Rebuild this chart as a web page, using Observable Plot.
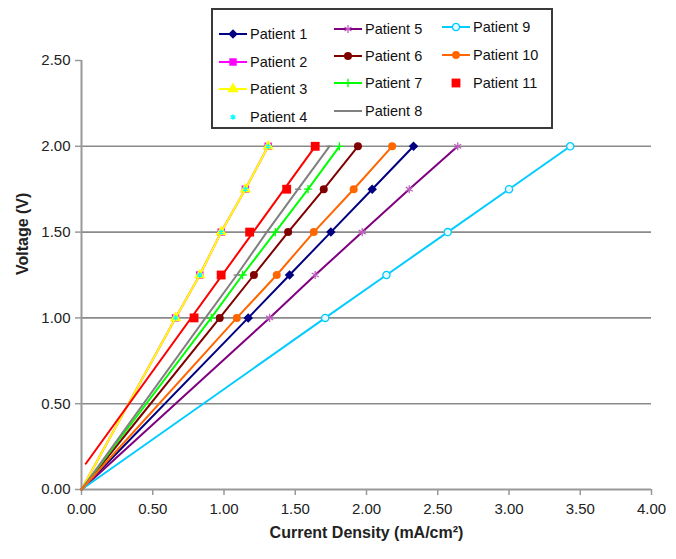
<!DOCTYPE html>
<html>
<head>
<meta charset="utf-8">
<script src="https://cdn.jsdelivr.net/npm/d3@7"></script>
<script src="https://cdn.jsdelivr.net/npm/@observablehq/plot@0.6"></script>
<style>
  html, body { margin: 0; padding: 0; background: #fff; }
  #wrap { position: relative; width: 676px; height: 559px; font-family: "Liberation Sans", Arial, sans-serif; }
  #legend { position: absolute; left: 211px; top: 8px; width: 338px; height: 117px; border: 2px solid #3a3a3a; background: #fff; box-sizing: content-box; }
  .item { position: absolute; display: flex; align-items: center; font-size: 14.5px; color: #111; white-space: nowrap; }
  .item svg { margin-right: 3px; overflow: visible; }
</style>
</head>
<body>
<div id="wrap"><div id="legend"></div></div>
<script>
// ---- data ----
const voltage = [0, 1.00, 1.25, 1.50, 1.75, 2.00];
const patient1  = [0, 1.17, 1.46, 1.75, 2.04, 2.33];
const patient2  = [0, 0.66, 0.83, 0.98, 1.15, 1.31];
const patient3  = [0, 0.66, 0.83, 0.98, 1.15, 1.31];
const patient4  = [null, 0.66, 0.83, 0.98, 1.15, 1.31];
const patient5  = [0, 1.32, 1.64, 1.97, 2.30, 2.64];
const patient6  = [0, 0.97, 1.21, 1.45, 1.70, 1.94];
const patient7  = [0, 0.91, 1.13, 1.36, 1.59, 1.81];
const patient8  = [0, 0.87, 1.09, 1.30, 1.52, 1.74];
const patient9  = [0, 1.71, 2.14, 2.57, 3.00, 3.43];
const patient10 = [0, 1.09, 1.37, 1.63, 1.91, 2.18];
const patient11 = [null, 0.79, 0.98, 1.18, 1.44, 1.64];
// linear trendline drawn for Patient 11 (end points)
const trend11Current = [0.03, 1.64];
const trend11Voltage = [0.15, 2.00];

const xTicks = [0, 0.5, 1, 1.5, 2, 2.5, 3, 3.5, 4];
const yTicks = [0, 0.5, 1, 1.5, 2, 2.5];
const gridValues = [0.5, 1, 1.5, 2];

// ---- styles ----
const dash = {draw(ctx, size) { const w = Math.sqrt(size) * 0.6; ctx.moveTo(-w, 0); ctx.lineTo(w, 0); }};
const series = [
  {name: "Patient 1",  current: patient1,  line: "#000080", symbol: "diamond2", fill: "#000080", stroke: "none", r: 4.3},
  {name: "Patient 2",  current: patient2,  line: "#ff00ff", symbol: "square",   fill: "#ff00ff", stroke: "none", r: 4.2},
  {name: "Patient 3",  current: patient3,  line: "#ffff00", symbol: "triangle", fill: "#ffff00", stroke: "none", r: 4.2},
  {name: "Patient 4",  current: patient4,  line: null,      symbol: "asterisk", fill: "none", stroke: "#00ffff", r: 2.5},
  {name: "Patient 5",  current: patient5,  line: "#800080", symbol: "asterisk", fill: "none", stroke: "#c060c0", r: 3.8},
  {name: "Patient 6",  current: patient6,  line: "#800000", symbol: "circle",   fill: "#800000", stroke: "none", r: 4},
  {name: "Patient 7",  current: patient7,  line: "#00ff00", symbol: "plus",     fill: "none", stroke: "#00ff00", r: 2.8},
  {name: "Patient 8",  current: patient8,  line: "#808080", symbol: dash,       fill: "none", stroke: "#808080", r: 3},
  {name: "Patient 9",  current: patient9,  line: "#00ccff", symbol: "circle",   fill: "#e8f9ff", stroke: "#00ccff", r: 3.6},
  {name: "Patient 10", current: patient10, line: "#ff6600", symbol: "circle",   fill: "#ff6600", stroke: "none", r: 4},
  {name: "Patient 11", current: patient11, line: null,      symbol: "square",   fill: "#ff0000", stroke: "none", r: 5}
];

const table = series.map(s => s.current.map((c, i) => ({patient: s.name, current: c, voltage: voltage[i]})).filter(d => d.current != null));
const trendTable = trend11Current.map((c, i) => ({current: c, voltage: trend11Voltage[i]}));

const marks = [
  Plot.ruleY(gridValues, {x1: 0, x2: 4, stroke: "#8a8a8a", strokeWidth: 1.6}),
  Plot.ruleX([0], {y1: 0, y2: 2.5, stroke: "#999", strokeWidth: 2}),
  Plot.ruleY([0], {x1: 0, x2: 4, stroke: "#999", strokeWidth: 2}),
  Plot.axisX(xTicks, {tickFormat: d => d.toFixed(2), tickSize: 6, tickPadding: 8, fontSize: 15, stroke: "#999", strokeWidth: 1.5, fill: "#222", label: null}),
  Plot.axisY(yTicks, {tickFormat: d => d.toFixed(2), tickSize: 6, tickPadding: 5, fontSize: 15, stroke: "#999", strokeWidth: 1.5, fill: "#222", label: null}),
  Plot.text(["Current Density (mA/cm²)"], {frameAnchor: "bottom", dy: 48, fontSize: 16, fontWeight: "bold", fill: "#222"}),
  Plot.text(["Voltage (V)"], {frameAnchor: "left", dx: -59, rotate: -90, fontSize: 16, fontWeight: "bold", fill: "#222"})
];

series.forEach((s, k) => {
  const rows = table[k];
  if (s.line) marks.push(Plot.line(rows, {x: "current", y: "voltage", stroke: s.line, strokeWidth: 2}));
  marks.push(Plot.dot(rows.filter(d => d.voltage > 0), {x: "current", y: "voltage", symbol: () => s.symbol, r: s.r, fill: s.fill, stroke: s.stroke, strokeWidth: 1.3}));
});
marks.push(Plot.line(trendTable, {x: "current", y: "voltage", stroke: "#ff0000", strokeWidth: 2}));

const chart = Plot.plot({
  width: 676, height: 559,
  marginLeft: 81, marginRight: 25, marginTop: 60, marginBottom: 70,
  x: {domain: [0, 4]},
  y: {domain: [0, 2.5]},
  symbol: {type: "identity"},
  style: {fontFamily: "'Liberation Sans', Arial, sans-serif", background: "white"},
  marks
});
document.getElementById("wrap").prepend(chart);

// ---- legend (inside the plot, as in the reference) ----
const legendPos = [
  [6, 24], [6, 52], [6, 79], [6, 107],
  [121, 19], [121, 46], [121, 73], [121, 101],
  [229, 17], [229, 45], [229, 73]
];
const symbolMap = {diamond2: d3.symbolDiamond2, square: d3.symbolSquare, triangle: d3.symbolTriangle, asterisk: d3.symbolAsterisk, circle: d3.symbolCircle, plus: d3.symbolPlus};
const legend = d3.select("#legend");
series.forEach((s, k) => {
  const it = legend.append("div").attr("class", "item")
    .style("left", legendPos[k][0] + "px").style("top", (legendPos[k][1] - 9) + "px");
  const svg = it.append("svg").attr("width", 28).attr("height", 18);
  if (s.line) svg.append("line").attr("x1", 0).attr("x2", 28).attr("y1", 9).attr("y2", 9).attr("stroke", s.line).attr("stroke-width", 2);
  const type = typeof s.symbol === "string" ? symbolMap[s.symbol] : s.symbol;
  svg.append("path").attr("transform", "translate(14,9)")
    .attr("d", d3.symbol(type, Math.PI * s.r * s.r)())
    .attr("fill", s.fill).attr("stroke", s.stroke).attr("stroke-width", 1.3);
  it.append("span").text(s.name);
});
</script>
</body>
</html>
